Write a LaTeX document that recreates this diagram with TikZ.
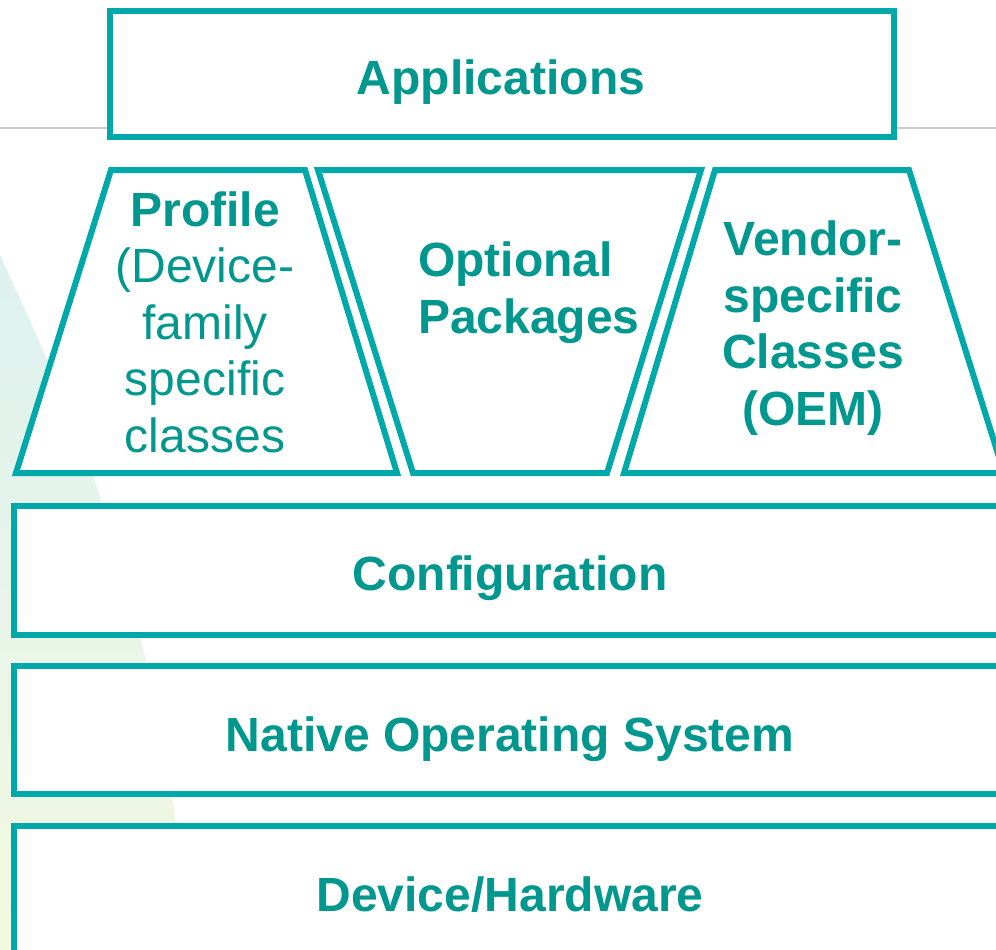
\documentclass[tikz,border=0pt]{standalone}
\usepackage{fontspec}
\setmainfont{Liberation Sans}
\definecolor{stroketeal}{HTML}{00A9A9}
\definecolor{textteal}{HTML}{00978F}
\definecolor{bgtop}{HTML}{DDF1F0}
\definecolor{bgbot}{HTML}{F3F9E0}
\definecolor{rulegray}{HTML}{CCCCCC}
\begin{document}
\begin{tikzpicture}[x=1pt,y=-1pt,
  layer/.style={draw=stroketeal,line width=6pt,fill=white,line join=miter},
  lbl/.style={text=textteal,font=\fontsize{48}{56.5}\selectfont,align=center,inner sep=0pt,anchor=base},
  blbl/.style={lbl,font=\fontsize{48}{56.5}\selectfont\bfseries}]
\useasboundingbox (0,0) rectangle (996,950);
\clip (0,0) rectangle (996,950);
% background swoosh
\shade[top color=bgtop,bottom color=bgbot]
  plot[smooth] coordinates {(0,255) (45,355) (93,476) (146,660) (176,823) (186,955)}
  -- (0,955) -- cycle;
% gray rule
\draw[rulegray,line width=2pt] (0,128) -- (996,128);
% Applications
\draw[layer] (110,11) rectangle (893.5,136.5);
\node[blbl] (apps) at (501,94) {Applications};
% trapezoids
\draw[layer] (111,170) -- (305,170) -- (397,473) -- (16,473) -- cycle;
\draw[layer] (318,170) -- (701,170) -- (607,473) -- (413,473) -- cycle;
\draw[layer] (715,170) -- (909,170) -- (1004,473) -- (624,473) -- cycle;
\node[lbl] (profile) at (205,452) {\textbf{Profile}\\(Device-\\family\\specific\\classes};
\node[blbl,align=left,anchor=base west] (optional) at (418,333) {Optional\\Packages};
\node[blbl] (vendor) at (813,425) {Vendor-\\specific\\Classes\\(OEM)};
% lower layers
\draw[layer] (14,506) rectangle (1010,634.5);
\node[blbl] (config) at (510,590) {Configuration};
\draw[layer] (14,666) rectangle (1010,794);
\node[blbl] (nos) at (510,751) {Native Operating System};
\draw[layer] (14,826) rectangle (1010,970);
\node[blbl] (device) at (510,911) {Device/Hardware};
\end{tikzpicture}
\end{document}
